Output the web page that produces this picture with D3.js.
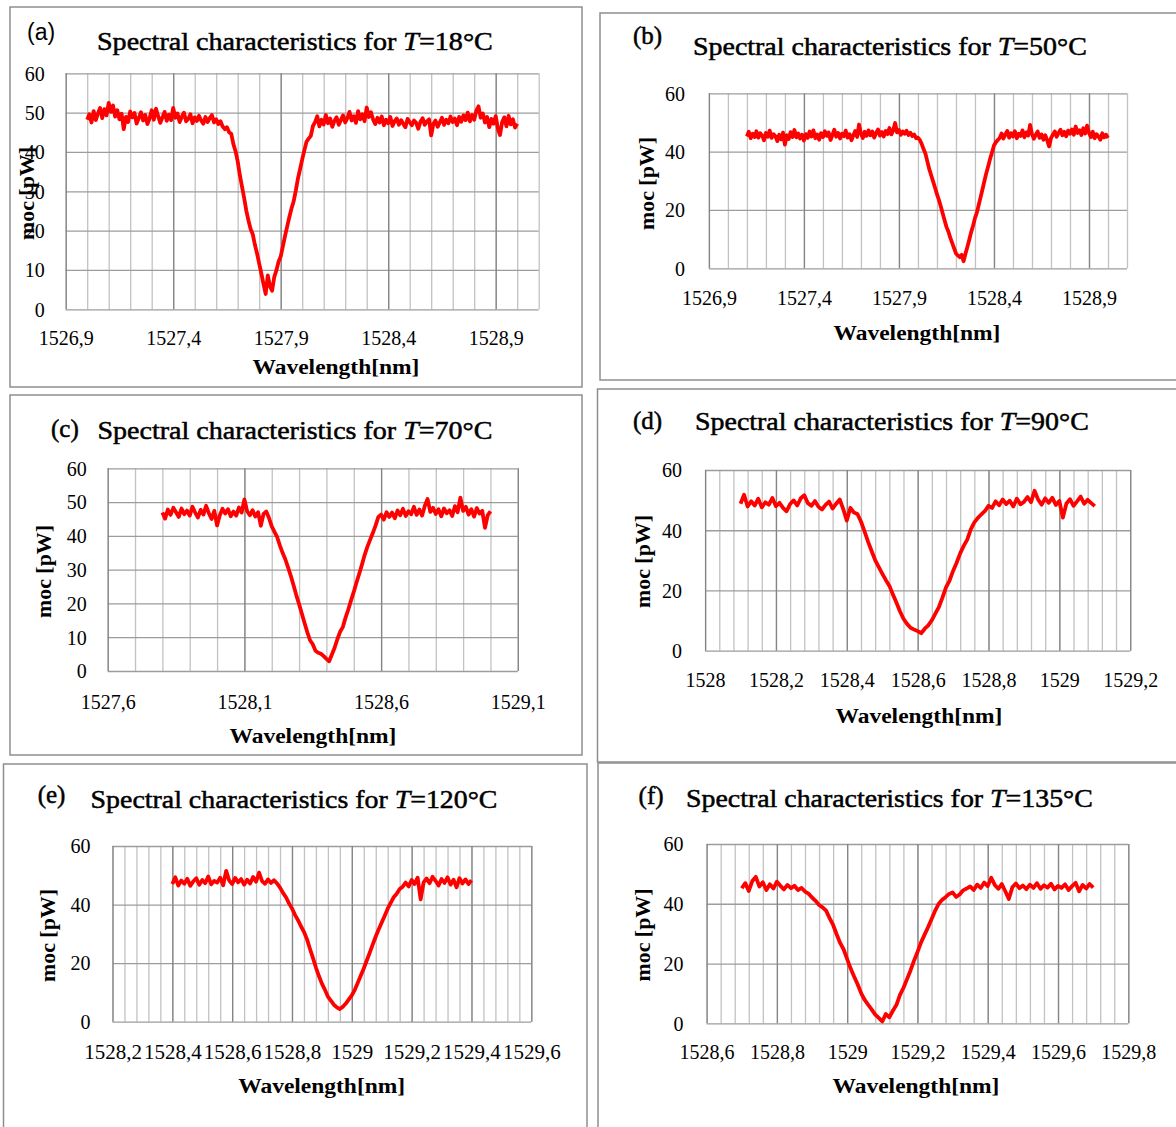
<!doctype html>
<html>
<head>
<meta charset="utf-8">
<script src="https://d3js.org/d3.v7.min.js"></script>
<style>
  body { margin: 0; background: #fff; }
  svg { display: block; }
  text { font-family: "Liberation Serif", "Times New Roman", serif; fill: #000; }
</style>
</head>
<body>
<svg width="1176" height="1127" id="fig"></svg>
<script>
// ---- data: [wavelength nm, power pW] ----
const spectrumA = [
[1527.00,48.2],[1527.01,49.6],[1527.02,47.5],[1527.03,50.4],[1527.04,48.1],[1527.05,49.8],[1527.06,51.2],[1527.07,48.6],[1527.08,50.9],[1527.09,49.3],
[1527.10,52.5],[1527.11,50.2],[1527.12,51.8],[1527.13,49.0],[1527.14,50.6],[1527.15,48.3],[1527.16,49.7],[1527.17,45.8],[1527.18,48.9],[1527.19,47.6],
[1527.20,50.3],[1527.21,48.8],[1527.22,49.9],[1527.23,47.2],[1527.24,48.6],[1527.25,50.1],[1527.26,48.0],[1527.27,49.4],[1527.28,47.1],[1527.29,48.5],
[1527.30,50.6],[1527.31,48.2],[1527.32,51.0],[1527.33,49.1],[1527.34,47.4],[1527.35,48.8],[1527.36,50.2],[1527.37,47.9],[1527.38,49.5],[1527.39,48.1],
[1527.40,51.2],[1527.41,48.7],[1527.42,49.8],[1527.43,47.6],[1527.44,48.9],[1527.45,50.0],[1527.46,47.8],[1527.47,48.4],[1527.48,49.6],[1527.49,47.3],
[1527.50,48.8],[1527.51,47.9],[1527.52,49.2],[1527.53,48.0],[1527.54,47.2],[1527.55,48.9],[1527.56,47.6],[1527.57,48.6],[1527.58,49.4],[1527.59,47.5],
[1527.60,48.3],[1527.61,47.1],[1527.62,47.8],[1527.63,46.5],[1527.64,45.8],[1527.65,46.3],[1527.66,45.0],[1527.67,44.6],[1527.68,42.0],[1527.69,40.2],
[1527.70,37.6],[1527.71,34.1],[1527.72,31.2],[1527.73,28.3],[1527.74,25.1],[1527.75,22.6],[1527.76,20.4],[1527.77,19.1],[1527.78,16.4],[1527.79,14.2],
[1527.80,11.6],[1527.81,9.1],[1527.82,6.4],[1527.83,3.9],[1527.84,8.6],[1527.85,5.9],[1527.86,4.7],[1527.87,8.2],[1527.88,9.9],[1527.89,12.1],
[1527.90,13.4],[1527.91,16.0],[1527.92,18.6],[1527.93,21.0],[1527.94,23.4],[1527.95,25.6],[1527.96,27.4],[1527.97,30.1],[1527.98,33.2],[1527.99,35.6],
[1528.00,38.1],[1528.01,40.4],[1528.02,42.6],[1528.03,43.4],[1528.04,44.1],[1528.05,46.6],[1528.06,47.6],[1528.07,49.1],[1528.08,46.5],[1528.09,48.2],
[1528.10,47.0],[1528.11,49.4],[1528.12,47.3],[1528.13,48.5],[1528.14,46.4],[1528.15,47.9],[1528.16,48.8],[1528.17,46.9],[1528.18,48.1],[1528.19,49.3],
[1528.20,47.5],[1528.21,48.6],[1528.22,50.2],[1528.23,48.0],[1528.24,49.1],[1528.25,47.4],[1528.26,50.4],[1528.27,48.3],[1528.28,49.6],[1528.29,47.8],
[1528.30,51.3],[1528.31,48.9],[1528.32,50.1],[1528.33,48.2],[1528.34,47.1],[1528.35,48.7],[1528.36,47.5],[1528.37,49.0],[1528.38,46.8],[1528.39,48.2],
[1528.40,47.3],[1528.41,48.9],[1528.42,46.6],[1528.43,47.8],[1528.44,48.5],[1528.45,46.9],[1528.46,48.1],[1528.47,47.2],[1528.48,46.3],[1528.49,48.4],
[1528.50,47.6],[1528.51,46.8],[1528.52,48.0],[1528.53,47.4],[1528.54,45.9],[1528.55,47.7],[1528.56,48.6],[1528.57,46.9],[1528.58,47.8],[1528.59,48.3],
[1528.60,44.2],[1528.61,47.1],[1528.62,48.0],[1528.63,46.4],[1528.64,47.5],[1528.65,48.7],[1528.66,46.9],[1528.67,48.2],[1528.68,47.3],[1528.69,49.0],
[1528.70,47.6],[1528.71,48.5],[1528.72,46.8],[1528.73,48.9],[1528.74,47.7],[1528.75,49.3],[1528.76,48.1],[1528.77,50.0],[1528.78,47.8],[1528.79,49.4],
[1528.80,48.2],[1528.81,50.5],[1528.82,51.6],[1528.83,48.7],[1528.84,49.8],[1528.85,47.5],[1528.86,48.9],[1528.87,46.3],[1528.88,48.4],[1528.89,47.2],
[1528.90,49.1],[1528.91,46.0],[1528.92,44.3],[1528.93,47.6],[1528.94,48.8],[1528.95,46.5],[1528.96,49.2],[1528.97,47.0],[1528.98,48.3],[1528.99,46.2],
[1529.00,47.2]];

const spectrumB = [
[1527.10,45.2],[1527.11,46.8],[1527.12,44.6],[1527.13,46.1],[1527.14,45.0],[1527.15,47.0],[1527.16,44.8],[1527.17,46.3],[1527.18,45.5],[1527.19,43.9],
[1527.20,46.4],[1527.21,45.1],[1527.22,47.2],[1527.23,44.7],[1527.24,46.0],[1527.25,45.3],[1527.26,43.6],[1527.27,45.8],[1527.28,44.2],[1527.29,46.5],
[1527.30,42.4],[1527.31,45.6],[1527.32,44.3],[1527.33,46.7],[1527.34,45.0],[1527.35,47.4],[1527.36,44.9],[1527.37,46.2],[1527.38,44.5],[1527.39,45.8],
[1527.40,43.8],[1527.41,46.0],[1527.42,44.7],[1527.43,46.9],[1527.44,45.2],[1527.45,47.3],[1527.46,44.6],[1527.47,45.9],[1527.48,44.1],[1527.49,46.3],
[1527.50,45.0],[1527.51,47.0],[1527.52,45.4],[1527.53,46.6],[1527.54,44.0],[1527.55,45.7],[1527.56,47.5],[1527.57,45.1],[1527.58,46.4],[1527.59,44.5],
[1527.60,46.1],[1527.61,45.3],[1527.62,47.2],[1527.63,44.8],[1527.64,46.0],[1527.65,43.9],[1527.66,45.6],[1527.67,47.1],[1527.68,45.0],[1527.69,49.3],
[1527.70,46.2],[1527.71,44.7],[1527.72,46.8],[1527.73,45.4],[1527.74,47.3],[1527.75,45.6],[1527.76,46.9],[1527.77,44.8],[1527.78,46.4],[1527.79,47.6],
[1527.80,45.5],[1527.81,46.7],[1527.82,45.2],[1527.83,47.1],[1527.84,46.0],[1527.85,48.1],[1527.86,45.9],[1527.87,47.3],[1527.88,49.8],[1527.89,46.6],
[1527.90,47.4],[1527.91,45.8],[1527.92,46.9],[1527.93,46.1],[1527.94,47.2],[1527.95,45.7],[1527.96,46.5],[1527.97,45.3],[1527.98,45.9],[1527.99,44.6],
[1528.00,44.8],[1528.01,44.0],[1528.02,42.6],[1528.03,40.8],[1528.04,39.2],[1528.05,36.5],[1528.06,33.9],[1528.07,31.8],[1528.08,29.7],[1528.09,27.6],
[1528.10,25.4],[1528.11,23.5],[1528.12,21.3],[1528.13,18.9],[1528.14,16.5],[1528.15,14.2],[1528.16,12.6],[1528.17,10.5],[1528.18,8.7],[1528.19,6.9],
[1528.20,5.1],[1528.21,4.4],[1528.22,3.8],[1528.23,4.6],[1528.24,2.4],[1528.25,5.0],[1528.26,7.3],[1528.27,9.8],[1528.28,12.4],[1528.29,14.6],
[1528.30,17.2],[1528.31,19.1],[1528.32,21.8],[1528.33,24.5],[1528.34,27.2],[1528.35,30.0],[1528.36,32.7],[1528.37,35.1],[1528.38,37.6],[1528.39,39.8],
[1528.40,42.1],[1528.41,43.2],[1528.42,44.0],[1528.43,44.7],[1528.44,46.2],[1528.45,44.5],[1528.46,45.9],[1528.47,47.1],[1528.48,44.8],[1528.49,46.3],
[1528.50,45.2],[1528.51,47.0],[1528.52,44.6],[1528.53,46.1],[1528.54,45.4],[1528.55,47.3],[1528.56,44.9],[1528.57,46.6],[1528.58,45.5],[1528.59,49.2],
[1528.60,46.0],[1528.61,44.4],[1528.62,45.8],[1528.63,46.9],[1528.64,44.7],[1528.65,45.9],[1528.66,44.1],[1528.67,45.6],[1528.68,43.9],[1528.69,41.8],
[1528.70,44.6],[1528.71,45.8],[1528.72,46.9],[1528.73,45.1],[1528.74,46.4],[1528.75,47.5],[1528.76,45.6],[1528.77,46.8],[1528.78,45.3],[1528.79,47.2],
[1528.80,46.1],[1528.81,47.6],[1528.82,45.8],[1528.83,48.6],[1528.84,46.4],[1528.85,47.3],[1528.86,45.7],[1528.87,48.0],[1528.88,46.2],[1528.89,48.9],
[1528.90,46.5],[1528.91,45.0],[1528.92,46.8],[1528.93,44.6],[1528.94,46.0],[1528.95,45.2],[1528.96,44.1],[1528.97,46.3],[1528.98,44.9],[1528.99,45.8],
[1529.00,44.7]];

const spectrumC = [
[1527.80,46.9],[1527.81,45.1],[1527.82,47.8],[1527.83,46.2],[1527.84,48.3],[1527.85,47.0],[1527.86,45.6],[1527.87,48.1],[1527.88,46.4],[1527.89,47.5],
[1527.90,46.0],[1527.91,48.6],[1527.92,46.9],[1527.93,45.4],[1527.94,47.7],[1527.95,46.3],[1527.96,48.9],[1527.97,46.7],[1527.98,45.0],[1527.99,47.4],
[1528.00,43.1],[1528.01,46.1],[1528.02,48.0],[1528.03,46.6],[1528.04,47.9],[1528.05,45.8],[1528.06,47.2],[1528.07,46.0],[1528.08,48.4],[1528.09,46.9],
[1528.10,50.8],[1528.11,47.3],[1528.12,46.1],[1528.13,47.6],[1528.14,45.7],[1528.15,47.0],[1528.16,43.0],[1528.17,46.5],[1528.18,47.2],[1528.19,45.3],
[1528.20,42.8],[1528.21,41.2],[1528.22,39.6],[1528.23,37.1],[1528.24,34.9],[1528.25,33.0],[1528.26,30.6],[1528.27,28.1],[1528.28,25.3],[1528.29,22.4],
[1528.30,19.8],[1528.31,17.0],[1528.32,14.2],[1528.33,11.5],[1528.34,9.1],[1528.35,7.9],[1528.36,6.0],[1528.37,5.4],[1528.38,5.1],[1528.39,4.4],
[1528.40,3.6],[1528.41,2.9],[1528.42,4.9],[1528.43,6.9],[1528.44,9.4],[1528.45,11.6],[1528.46,13.0],[1528.47,15.8],[1528.48,18.2],[1528.49,20.9],
[1528.50,23.4],[1528.51,26.2],[1528.52,28.8],[1528.53,31.5],[1528.54,34.4],[1528.55,36.8],[1528.56,38.9],[1528.57,40.9],[1528.58,43.1],[1528.59,45.6],
[1528.60,46.3],[1528.61,44.8],[1528.62,47.0],[1528.63,45.6],[1528.64,46.9],[1528.65,45.2],[1528.66,47.5],[1528.67,46.1],[1528.68,48.0],[1528.69,45.9],
[1528.70,47.3],[1528.71,46.4],[1528.72,48.6],[1528.73,46.2],[1528.74,47.8],[1528.75,46.0],[1528.76,48.9],[1528.77,50.9],[1528.78,47.1],[1528.79,48.3],
[1528.80,46.5],[1528.81,47.9],[1528.82,45.8],[1528.83,48.1],[1528.84,46.7],[1528.85,47.6],[1528.86,45.9],[1528.87,48.8],[1528.88,47.0],[1528.89,51.3],
[1528.90,47.4],[1528.91,48.6],[1528.92,46.3],[1528.93,47.9],[1528.94,45.7],[1528.95,48.2],[1528.96,46.6],[1528.97,47.4],[1528.98,42.4],[1528.99,46.1],
[1529.00,47.3]];

const spectrumD = [
[1528.10,48.8],[1528.11,51.8],[1528.12,47.9],[1528.13,49.6],[1528.14,48.2],[1528.15,50.5],[1528.16,47.6],[1528.17,49.3],[1528.18,48.5],[1528.19,50.7],
[1528.20,48.0],[1528.21,49.1],[1528.22,47.4],[1528.23,46.3],[1528.24,48.7],[1528.25,49.9],[1528.26,48.2],[1528.27,50.6],[1528.28,51.6],[1528.29,49.0],
[1528.30,48.1],[1528.31,49.7],[1528.32,47.8],[1528.33,46.9],[1528.34,48.4],[1528.35,49.5],[1528.36,47.2],[1528.37,48.8],[1528.38,50.2],[1528.39,47.0],
[1528.40,43.2],[1528.41,47.4],[1528.42,45.9],[1528.43,45.4],[1528.44,42.9],[1528.45,39.6],[1528.46,36.2],[1528.47,33.1],[1528.48,30.1],[1528.49,27.8],
[1528.50,25.6],[1528.51,23.5],[1528.52,21.6],[1528.53,18.7],[1528.54,16.0],[1528.55,13.1],[1528.56,10.6],[1528.57,8.9],[1528.58,7.6],[1528.59,7.0],
[1528.60,6.5],[1528.61,5.8],[1528.62,7.3],[1528.63,8.4],[1528.64,10.1],[1528.65,12.3],[1528.66,14.5],[1528.67,17.6],[1528.68,21.0],[1528.69,23.3],
[1528.70,26.5],[1528.71,29.2],[1528.72,32.3],[1528.73,34.8],[1528.74,36.9],[1528.75,40.3],[1528.76,42.6],[1528.77,44.1],[1528.78,45.3],[1528.79,46.4],
[1528.80,48.1],[1528.81,47.4],[1528.82,49.6],[1528.83,48.3],[1528.84,50.2],[1528.85,48.7],[1528.86,49.8],[1528.87,47.9],[1528.88,50.5],[1528.89,48.6],
[1528.90,49.4],[1528.91,51.0],[1528.92,49.3],[1528.93,53.1],[1528.94,50.2],[1528.95,48.5],[1528.96,50.6],[1528.97,49.1],[1528.98,50.8],[1528.99,48.4],
[1529.00,49.7],[1529.01,44.2],[1529.02,48.9],[1529.03,50.3],[1529.04,48.1],[1529.05,49.6],[1529.06,51.2],[1529.07,48.8],[1529.08,50.1],[1529.09,49.0],
[1529.10,48.0]];

const spectrumE = [
[1528.40,47.0],[1528.41,49.3],[1528.42,46.5],[1528.43,48.2],[1528.44,47.1],[1528.45,48.8],[1528.46,46.4],[1528.47,47.9],[1528.48,49.0],[1528.49,46.8],
[1528.50,48.4],[1528.51,47.3],[1528.52,49.6],[1528.53,46.9],[1528.54,48.1],[1528.55,47.5],[1528.56,49.2],[1528.57,46.6],[1528.58,51.5],[1528.59,48.2],
[1528.60,47.0],[1528.61,49.1],[1528.62,47.6],[1528.63,48.7],[1528.64,46.8],[1528.65,48.5],[1528.66,47.2],[1528.67,49.4],[1528.68,47.8],[1528.69,50.9],
[1528.70,48.0],[1528.71,47.1],[1528.72,48.6],[1528.73,47.4],[1528.74,48.3],[1528.75,47.2],[1528.76,45.8],[1528.77,44.0],[1528.78,42.5],[1528.79,40.4],
[1528.80,38.7],[1528.81,36.5],[1528.82,34.7],[1528.83,32.6],[1528.84,30.7],[1528.85,28.2],[1528.86,24.9],[1528.87,21.8],[1528.88,18.5],[1528.89,15.6],
[1528.90,13.0],[1528.91,10.9],[1528.92,8.6],[1528.93,7.2],[1528.94,5.8],[1528.95,4.9],[1528.96,4.3],[1528.97,5.1],[1528.98,6.2],[1528.99,7.6],
[1529.00,9.0],[1529.01,10.9],[1529.02,13.3],[1529.03,15.8],[1529.04,18.2],[1529.05,20.9],[1529.06,23.6],[1529.07,26.4],[1529.08,29.1],[1529.09,31.6],
[1529.10,33.9],[1529.11,36.2],[1529.12,38.6],[1529.13,40.6],[1529.14,42.5],[1529.15,43.7],[1529.16,45.3],[1529.17,46.1],[1529.18,47.5],[1529.19,46.2],
[1529.20,48.4],[1529.21,47.0],[1529.22,49.2],[1529.23,41.8],[1529.24,47.6],[1529.25,48.9],[1529.26,47.3],[1529.27,49.5],[1529.28,48.1],[1529.29,46.5],
[1529.30,48.7],[1529.31,47.4],[1529.32,49.3],[1529.33,46.8],[1529.34,48.5],[1529.35,45.9],[1529.36,49.0],[1529.37,47.2],[1529.38,48.6],[1529.39,47.0],
[1529.40,48.3]];

const spectrumF = [
[1528.70,45.2],[1528.71,46.9],[1528.72,44.3],[1528.73,47.6],[1528.74,49.0],[1528.75,45.8],[1528.76,47.2],[1528.77,44.6],[1528.78,46.5],[1528.79,45.1],
[1528.80,47.4],[1528.81,46.0],[1528.82,44.8],[1528.83,46.3],[1528.84,45.2],[1528.85,46.0],[1528.86,44.6],[1528.87,45.3],[1528.88,44.1],[1528.89,43.4],
[1528.90,42.1],[1528.91,41.0],[1528.92,39.6],[1528.93,38.8],[1528.94,37.7],[1528.95,35.2],[1528.96,32.9],[1528.97,29.8],[1528.98,26.9],[1528.99,24.7],
[1529.00,21.5],[1529.01,18.3],[1529.02,15.6],[1529.03,13.0],[1529.04,10.0],[1529.05,7.8],[1529.06,6.2],[1529.07,4.6],[1529.08,2.9],[1529.09,1.8],
[1529.10,0.6],[1529.11,3.1],[1529.12,2.0],[1529.13,4.2],[1529.14,6.1],[1529.15,9.4],[1529.16,11.8],[1529.17,14.7],[1529.18,17.6],[1529.19,20.9],
[1529.20,23.8],[1529.21,27.0],[1529.22,29.6],[1529.23,32.1],[1529.24,34.8],[1529.25,37.6],[1529.26,39.9],[1529.27,41.3],[1529.28,42.2],[1529.29,43.3],
[1529.30,43.8],[1529.31,42.3],[1529.32,43.1],[1529.33,44.5],[1529.34,45.1],[1529.35,45.8],[1529.36,44.6],[1529.37,46.4],[1529.38,45.3],[1529.39,47.1],
[1529.40,45.9],[1529.41,48.7],[1529.42,46.3],[1529.43,45.0],[1529.44,46.6],[1529.45,44.2],[1529.46,41.6],[1529.47,45.5],[1529.48,46.8],[1529.49,45.2],
[1529.50,46.1],[1529.51,44.9],[1529.52,46.4],[1529.53,45.3],[1529.54,46.9],[1529.55,45.0],[1529.56,46.2],[1529.57,45.4],[1529.58,46.7],[1529.59,44.8],
[1529.60,46.0],[1529.61,45.3],[1529.62,46.5],[1529.63,44.6],[1529.64,45.9],[1529.65,47.0],[1529.66,44.2],[1529.67,46.3],[1529.68,45.1],[1529.69,46.6],
[1529.70,45.4]];

// axis extents and tick labels
const xDomainA = [1526.9, 1529.1], xTicksA = [1526.9, 1527.4, 1527.9, 1528.4, 1528.9];
const xDomainB = [1526.9, 1529.1], xTicksB = [1526.9, 1527.4, 1527.9, 1528.4, 1528.9];
const xDomainC = [1527.6, 1529.1], xTicksC = [1527.6, 1528.1, 1528.6, 1529.1];
const xDomainD = [1528.0, 1529.2], xTicksD = [1528, 1528.2, 1528.4, 1528.6, 1528.8, 1529, 1529.2];
const xDomainE = [1528.2, 1529.6], xTicksE = [1528.2, 1528.4, 1528.6, 1528.8, 1529, 1529.2, 1529.4, 1529.6];
const xDomainF = [1528.6, 1529.8], xTicksF = [1528.6, 1528.8, 1529, 1529.2, 1529.4, 1529.6, 1529.8];
const yTicks10 = [0, 10, 20, 30, 40, 50, 60];
const yTicks20 = [0, 20, 40, 60];
const temps = ["18", "50", "70", "90", "120", "135"];
const letters = ["(a)", "(b)", "(c)", "(d)", "(e)", "(f)"];

// ---- layout ----
const panels = [
  { data: spectrumA, dom: xDomainA, xt: xTicksA, yt: yTicks10, minor: 0.1, tickFs: 20,
    box: [10, 7, 582, 387], plot: [65.7, 538.7, 73.3, 309.3], ygap: 21, xbase: 345,
    title: [97, 50, 396], letter: [27, 40, true], xlab: [336, 374], ylab: [34, 193.5] },
  { data: spectrumB, dom: xDomainB, xt: xTicksB, yt: yTicks20, minor: 0.1, tickFs: 20,
    box: [600, 13, 1180, 380], plot: [708.9, 1127, 93.3, 268.3], ygap: 24, xbase: 305,
    title: [693, 55, 394], letter: [633, 44, false], xlab: [917, 340], ylab: [654, 183.5] },
  { data: spectrumC, dom: xDomainC, xt: xTicksC, yt: yTicks10, minor: 0.1, tickFs: 20,
    box: [10, 395, 582, 755], plot: [107.7, 517.8, 468.3, 671], ygap: 21, xbase: 709,
    title: [97.5, 439, 395], letter: [51, 437, false], xlab: [313, 743], ylab: [51, 571.5] },
  { data: spectrumD, dom: xDomainD, xt: xTicksD, yt: yTicks20, minor: 0.04, tickFs: 20,
    box: [597.5, 389, 1180, 762], plot: [705.1, 1130.2, 470, 650.7], ygap: 23, xbase: 687,
    title: [695, 430, 394], letter: [633, 429, false], xlab: [919, 723], ylab: [650, 561.5] },
  { data: spectrumE, dom: xDomainE, xt: xTicksE, yt: yTicks20, minor: 0.04, tickFs: 21,
    box: [3.5, 764, 587, 1135], plot: [112.5, 531.3, 846, 1021.7], ygap: 22, xbase: 1059,
    title: [90.6, 808, 407], letter: [37.7, 803, false], xlab: [321.7, 1093], ylab: [55, 935.5] },
  { data: spectrumF, dom: xDomainF, xt: xTicksF, yt: yTicks20, minor: 0.04, tickFs: 20,
    box: [598, 763, 1180, 1135], plot: [706.6, 1128.3, 844, 1023.3], ygap: 23, xbase: 1059,
    title: [686, 807, 407], letter: [638.6, 804, false], xlab: [916, 1093], ylab: [650, 935] }
];

const svg = d3.select("#fig");
const fmt = v => String(v).replace(".", ",");

// stretch a text node horizontally to a target width
function fitWidth(sel, target, baseTransform) {
  const w = sel.node().getBBox().width;
  sel.attr("transform", baseTransform + " scale(" + (target / w) + ",1)");
}

panels.forEach((p, i) => {
  const [x0, x1, yTop, yBot] = p.plot;
  const x = d3.scaleLinear().domain(p.dom).range([x0, x1]);
  const y = d3.scaleLinear().domain([0, 60]).range([yBot, yTop]);
  const g = svg.append("g");

  // frame
  g.append("rect")
    .attr("x", p.box[0]).attr("y", p.box[1])
    .attr("width", p.box[2] - p.box[0]).attr("height", p.box[3] - p.box[1])
    .attr("fill", "none").attr("stroke", "#8e8e8e").attr("stroke-width", 1.5);

  // minor vertical grid
  const n = Math.round((p.dom[1] - p.dom[0]) / p.minor);
  const minorVals = d3.range(n + 1).map(k => +(p.dom[0] + k * p.minor).toFixed(3));
  const gMinor = g.append("g").attr("transform", "translate(0," + yBot + ")")
    .call(d3.axisBottom(x).tickValues(minorVals).tickSize(-(yBot - yTop)).tickFormat(""));
  gMinor.select(".domain").remove();
  gMinor.selectAll("line").attr("stroke", "#c2c2c2").attr("stroke-width", 1.3);

  // horizontal grid
  const gH = g.append("g").attr("transform", "translate(" + x0 + ",0)")
    .call(d3.axisLeft(y).tickValues(p.yt).tickSize(-(x1 - x0)).tickFormat(""));
  gH.select(".domain").remove();
  gH.selectAll("line").attr("stroke", "#9c9c9c").attr("stroke-width", 1.3);

  // major vertical grid
  const gMajor = g.append("g").attr("transform", "translate(0," + yBot + ")")
    .call(d3.axisBottom(x).tickValues(p.xt).tickSize(-(yBot - yTop)).tickFormat(""));
  gMajor.select(".domain").remove();
  gMajor.selectAll("line").attr("stroke", "#858585").attr("stroke-width", 1.3);

  // tick labels
  const gx = g.append("g").attr("transform", "translate(0," + yBot + ")")
    .call(d3.axisBottom(x).tickValues(p.xt).tickSize(0).tickFormat(fmt));
  gx.select(".domain").remove();
  gx.selectAll("text").attr("y", p.xbase - yBot).attr("dy", null)
    .style("font-family", "Liberation Serif").style("font-size", p.tickFs + "px");

  const gy = g.append("g").attr("transform", "translate(" + x0 + ",0)")
    .call(d3.axisLeft(y).tickValues(p.yt).tickSize(0).tickPadding(p.ygap));
  gy.select(".domain").remove();
  gy.selectAll("text").attr("dy", "0.34em")
    .style("font-family", "Liberation Serif").style("font-size", "20px");

  // spectrum trace
  g.append("path")
    .datum(p.data)
    .attr("fill", "none")
    .attr("stroke", "#ff0000")
    .attr("stroke-width", 3.8)
    .attr("stroke-linejoin", "round")
    .attr("d", d3.line().x(d => x(d[0])).y(d => y(d[1])));

  // title
  const t = g.append("text").style("font-size", "25px")
    .attr("stroke", "#000").attr("stroke-width", 0.5);
  t.append("tspan").text("Spectral characteristics for ");
  t.append("tspan").style("font-style", "italic").text("T");
  t.append("tspan").text("=" + temps[i] + "°C");
  fitWidth(t, p.title[2], "translate(" + p.title[0] + "," + p.title[1] + ")");

  // panel letter
  const L = g.append("text").attr("x", p.letter[0]).attr("y", p.letter[1]).text(letters[i]);
  if (p.letter[2]) {
    L.style("font-family", "Liberation Sans").style("font-size", "23px");
  } else {
    L.style("font-size", "25px").attr("stroke", "#000").attr("stroke-width", 0.5);
  }

  // axis titles
  const xl = g.append("text").attr("text-anchor", "middle")
    .style("font-size", "20px").style("font-weight", "bold").text("Wavelength[nm]");
  fitWidth(xl, 167, "translate(" + p.xlab[0] + "," + p.xlab[1] + ")");

  const yl = g.append("text").attr("text-anchor", "middle")
    .style("font-size", "20px").style("font-weight", "bold").text("moc [pW]");
  fitWidth(yl, 93, "translate(" + p.ylab[0] + "," + p.ylab[1] + ") rotate(-90)");
});
</script>
</body>
</html>
